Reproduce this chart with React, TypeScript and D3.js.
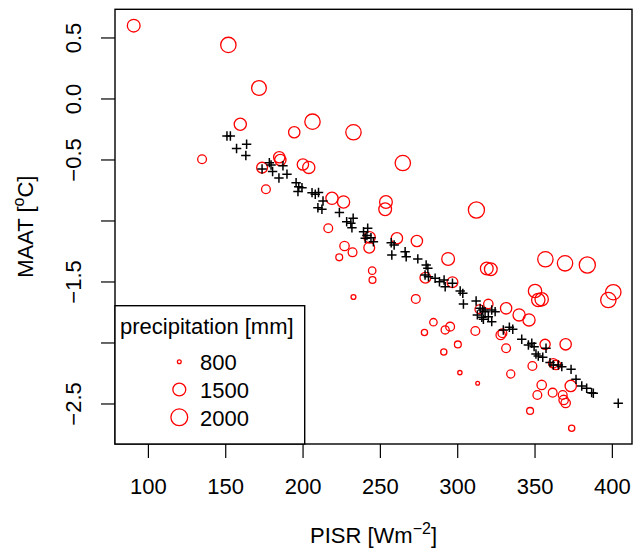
import React from "react";
import * as d3 from "d3";

const width = 633;
const height = 554;
const box = { left: 115, right: 632, top: 9.3, bottom: 444 };
const font = "'Liberation Sans', Arial, Helvetica, sans-serif";

// red circles: PISR, MAAT, precipitation
const circlePisr = [
  90.5, 151.7, 171.5, 159.4, 134.7, 194.3, 173.5, 184.6, 185.3, 176.0, 199.9,
  203.7, 206.1, 232.6, 264.5, 312.1, 218.7, 226.2, 253.6, 253.1, 216.3, 226.8,
  232.0, 223.4, 243.0, 242.8, 260.7, 273.6, 293.8, 318.8, 321.4, 244.7, 244.9,
  232.6, 279.1, 296.6, 272.9, 284.3, 278.5, 295.1, 291.9, 311.4, 300.1, 291.0,
  301.4, 312.9, 356.7, 369.4, 383.8, 350.0, 352.1, 354.3, 400.6, 397.4, 319.8,
  314.0, 331.3, 339.7, 346.1, 327.8, 328.9, 331.3, 356.5, 369.8, 348.3, 334.3,
  361.8, 363.6, 354.3, 351.5, 361.4, 367.9, 368.5, 369.8, 373.1, 346.8, 373.7,
];
const circleMaat = [
  0.601, 0.443, 0.09, -0.207, -0.494, -0.273, -0.563, -0.478, -0.5, -0.74,
  -0.537, -0.561, -0.186, -0.273, -0.525, -0.91, -0.814, -0.844, -0.844, -0.904,
  -1.06, -1.205, -1.257, -1.298, -1.134, -1.219, -1.142, -1.164, -1.311, -1.389,
  -1.396, -1.407, -1.484, -1.623, -1.465, -1.502, -1.639, -1.83, -1.914, -1.866,
  -1.893, -1.902, -2.012, -2.074, -2.243, -2.33, -1.314, -1.347, -1.361, -1.574,
  -1.648, -1.642, -1.584, -1.648, -1.68, -1.724, -1.716, -1.77, -1.811, -1.934,
  -1.92, -2.043, -2.011, -2.011, -2.189, -2.254, -2.166, -2.18, -2.344, -2.426,
  -2.407, -2.426, -2.467, -2.492, -2.352, -2.557, -2.699,
];
const precip = [
  1480, 1800, 1720, 1420, 1100, 1330, 1280, 1330, 1330, 1100, 1330, 1420, 1800,
  1800, 1800, 1900, 1420, 1420, 1480, 1480, 1100, 1150, 1100, 960, 1330, 1280,
  1330, 1330, 1480, 1480, 1480, 1000, 960, 850, 1280, 1280, 1100, 1000, 920,
  1100, 1050, 1100, 960, 920, 820, 800, 1800, 1800, 1900, 1550, 1550, 1550,
  1800, 1800, 1150, 1100, 1330, 1420, 1420, 1150, 1100, 1100, 1220, 1330, 1100,
  1050, 1150, 1150, 1150, 1100, 1100, 1100, 1150, 1150, 1330, 960, 920,
];

// black crosses: PISR, MAAT
const crossPisr = [
  150.8, 153.0, 157.0, 163.5, 163.0, 173.5, 178.2, 179.3, 180.3, 184.4, 187.0,
  189.6, 195.5, 197.2, 196.7, 199.3, 205.8, 207.9, 210.0, 212.9, 209.6, 212.2,
  223.5, 228.2, 232.4, 230.9, 231.6, 239.1, 241.3, 241.8, 243.9, 245.5, 240.2,
  257.0, 257.4, 258.9, 266.0, 266.7, 274.2, 279.6, 280.7, 278.9, 281.1, 285.4,
  288.2, 291.2, 291.9, 296.6, 301.6, 303.3, 303.7, 311.9, 314.5, 316.2, 317.7,
  322.0, 324.2, 312.7, 315.6, 319.8, 322.0, 316.6, 329.5, 333.4, 335.6, 341.4,
  345.7, 347.9, 349.4, 350.6, 352.1, 357.1, 355.0, 359.7, 361.8, 365.1, 367.3,
  373.3, 376.5, 380.2, 383.4, 386.6, 387.7, 403.8,
];
const crossMaat = [
  -0.303, -0.303, -0.406, -0.371, -0.463, -0.574, -0.522, -0.541, -0.594,
  -0.648, -0.547, -0.616, -0.686, -0.719, -0.758, -0.727, -0.768, -0.781,
  -0.766, -0.836, -0.891, -0.904, -0.93, -1.006, -0.978, -1.019, -1.055, -1.088,
  -1.12, -1.06, -1.137, -1.17, -1.142, -1.178, -1.279, -1.197, -1.252, -1.293,
  -1.311, -1.361, -1.388, -1.443, -1.457, -1.47, -1.498, -1.484, -1.539, -1.511,
  -1.574, -1.593, -1.68, -1.656, -1.716, -1.73, -1.743, -1.73, -1.743, -1.77,
  -1.789, -1.784, -1.825, -1.806, -1.893, -1.871, -1.888, -1.97, -2.016, -2.002,
  -2.03, -2.09, -2.107, -2.043, -2.117, -2.161, -2.18, -2.18, -2.194, -2.216,
  -2.298, -2.352, -2.371, -2.407, -2.412, -2.494,
];

const xTicks = [100, 150, 200, 250, 300, 350, 400];
const yTicks = [0.5, 0, -0.5, -1, -1.5, -2, -2.5];
const yLabelled = [0.5, 0, -0.5, -1.5, -2.5];
const legendValues = [800, 1500, 2000];

const fmtY = (v: number) => d3.format(".1f")(v).replace("-", "\u2212");

export default function App() {
  const x = d3.scaleLinear().domain([78.4, 412.7]).range([box.left, box.right]);
  const y = d3.scaleLinear().domain([-2.828, 0.735]).range([box.bottom, box.top]);
  // circle radius grows with sqrt of precipitation above 700 mm
  const rScale = d3.scaleSqrt().domain([0, 1300]).range([0, 9.0]);
  const r = (p: number) => Math.max(rScale(p - 700) - 0.6, 1.5);

  const arm = 4.7;
  const fs = 22;
  const legend = { x0: box.left, x1: 304.7, y0: 305.7, symX: 179.3, labX: 200, row0: 361.7, rowH: 27.8 };

  return (
    <div>
      <style>{"body{margin:0}"}</style>
      <svg width={width} height={height} style={{ display: "block", fontFamily: font }}>
        <rect width={width} height={height} fill="#fff" />

        {/* red circles */}
        {circlePisr.map((d, i) => (
          <circle
            key={"c" + i}
            cx={x(d)}
            cy={y(circleMaat[i])}
            r={r(precip[i])}
            fill="none"
            stroke="#ff0000"
            strokeWidth={1.3}
          />
        ))}

        {/* black crosses */}
        {crossPisr.map((d, i) => {
          const cx = x(d);
          const cy = y(crossMaat[i]);
          return (
            <path
              key={"p" + i}
              d={`M${cx - arm},${cy}H${cx + arm}M${cx},${cy - arm}V${cy + arm}`}
              stroke="#000"
              strokeWidth={1.5}
              fill="none"
            />
          );
        })}

        {/* x axis */}
        {xTicks.map((t) => (
          <g key={"xt" + t}>
            <line x1={x(t)} x2={x(t)} y1={box.bottom} y2={box.bottom + 14} stroke="#000" strokeWidth={1.2} />
            <text x={x(t)} y={494} fontSize={fs} textAnchor="middle">
              {t}
            </text>
          </g>
        ))}
        <text x={(box.left + box.right) / 2} y={543} fontSize={fs} textAnchor="middle">
          PISR [Wm
          <tspan dy={-9} fontSize={16}>
            {"\u22122"}
          </tspan>
          <tspan dy={9}>]</tspan>
        </text>

        {/* y axis */}
        {yTicks.map((t) => (
          <line key={"yt" + t} x1={box.left - 14} x2={box.left} y1={y(t)} y2={y(t)} stroke="#000" strokeWidth={1.2} />
        ))}
        {yLabelled.map((t) => (
          <text key={"yl" + t} transform={`translate(81,${y(t)}) rotate(-90)`} fontSize={fs} textAnchor="middle">
            {fmtY(t)}
          </text>
        ))}
        <text
          transform={`translate(33,${(box.top + box.bottom) / 2}) rotate(-90)`}
          fontSize={fs}
          textAnchor="middle"
        >
          MAAT [
          <tspan dy={-9} fontSize={16}>
            o
          </tspan>
          <tspan dy={9}>C]</tspan>
        </text>

        {/* plot box */}
        <rect
          x={box.left}
          y={box.top}
          width={box.right - box.left}
          height={box.bottom - box.top}
          fill="none"
          stroke="#000"
          strokeWidth={1.4}
        />

        {/* legend */}
        <rect
          x={legend.x0}
          y={legend.y0}
          width={legend.x1 - legend.x0}
          height={box.bottom - legend.y0}
          fill="#fff"
          stroke="#000"
          strokeWidth={1.4}
        />
        <text x={120} y={334.3} fontSize={fs}>
          precipitation [mm]
        </text>
        {legendValues.map((v, i) => {
          const cy = legend.row0 + i * legend.rowH;
          return (
            <g key={"lg" + v}>
              <circle cx={legend.symX} cy={cy} r={r(v)} fill="none" stroke="#ff0000" strokeWidth={1.3} />
              <text x={legend.labX} y={cy + 8.2} fontSize={fs}>
                {v}
              </text>
            </g>
          );
        })}
      </svg>
    </div>
  );
}
